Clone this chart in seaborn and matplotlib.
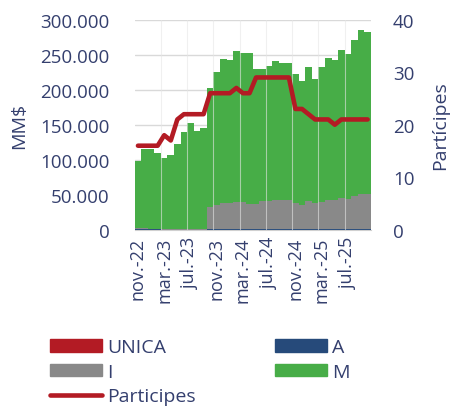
import numpy as np
import pandas as pd
import matplotlib
matplotlib.use('Agg')
import matplotlib.pyplot as plt
import seaborn as sns
from matplotlib.patches import Patch
from matplotlib.lines import Line2D
from matplotlib.ticker import FuncFormatter

# data (MM$)
months = ['nov.-22', 'dic.-22', 'ene.-23', 'feb.-23', 'mar.-23', 'abr.-23', 'may.-23', 'jun.-23',
          'jul.-23', 'ago.-23', 'sept.-23', 'oct.-23', 'nov.-23', 'dic.-23', 'ene.-24', 'feb.-24',
          'mar.-24', 'abr.-24', 'may.-24', 'jun.-24', 'jul.-24', 'ago.-24', 'sept.-24', 'oct.-24',
          'nov.-24', 'dic.-24', 'ene.-25', 'feb.-25', 'mar.-25', 'abr.-25', 'may.-25', 'jun.-25',
          'jul.-25', 'ago.-25', 'sept.-25', 'oct.-25']
unica = [0] * 36
serie_a = [1000, 1000, 300, 300, 200, 200, 200, 200, 200, 200, 200, 300,
           300, 800, 800, 500, 300, 300, 300, 300, 300, 300, 300, 300,
           300, 300, 300, 300, 300, 300, 300, 300, 300, 300, 300, 300]
serie_i = [1500, 1500, 1000, 1000, 500, 500, 500, 500, 500, 500, 500, 32000,
           35000, 38000, 38000, 39000, 39000, 36000, 36000, 40000, 41000, 41500, 41500, 41500,
           38000, 35500, 40000, 37500, 39000, 42000, 41500, 45000, 44000, 47500, 50500, 50500]
total = [98600, 115000, 115000, 110000, 102000, 107000, 122000, 139000, 152000, 140500, 146000, 202000,
         226000, 244000, 242000, 255000, 253000, 252000, 229000, 230000, 234000, 240500, 238000, 238000,
         222000, 212000, 232000, 215000, 233000, 245000, 242000, 257000, 251000, 271000, 285000, 282000]
participes = [16, 16, 16, 16, 18, 17, 21, 22, 22, 22, 22, 26, 26, 26, 26, 27, 26, 26,
              29, 29, 29, 29, 29, 29, 23, 23, 22, 21, 21, 21, 20, 21, 21, 21, 21, 21]

serie_m = [t - i - a for t, i, a in zip(total, serie_i, serie_a)]

df = pd.DataFrame({'mes': months, 'UNICA': unica, 'A': serie_a, 'I': serie_i, 'M': serie_m})
df['top_m'] = df['UNICA'] + df['A'] + df['I'] + df['M']
df['top_i'] = df['UNICA'] + df['A'] + df['I']
df['top_a'] = df['UNICA'] + df['A']

c_green = '#47ad47'
c_gray = '#898989'
c_blue = '#264a7a'
c_red = '#b31b24'
c_text = '#343f6e'

sns.set_style('white')
plt.rcParams['font.family'] = ['Open Sans', 'DejaVu Sans']
plt.rcParams['text.color'] = c_text
plt.rcParams['axes.labelcolor'] = c_text
plt.rcParams['xtick.color'] = c_text
plt.rcParams['ytick.color'] = c_text

fig = plt.figure(figsize=(4.5, 4.1), dpi=100)
ax = fig.add_axes([0.2993, 0.4373, 0.5249, 0.5122])

for col, color in [('top_m', c_green), ('top_i', c_gray), ('top_a', c_blue), ('UNICA', c_red)]:
    sns.barplot(data=df, x='mes', y=col, color=color, width=1.0, saturation=1,
                linewidth=0, ax=ax, zorder=2)

ax.set_ylim(0, 300000)
ax.set_xlim(-0.5, 35.5)
ax.set_yticks(np.arange(0, 300001, 50000))
ax.yaxis.set_major_formatter(FuncFormatter(lambda v, p: f'{int(v):,}'.replace(',', '.')))
ax.grid(axis='y', color='#d9d9d9', lw=1, zorder=0)
ax.set_axisbelow(True)
for b in range(4, 36, 4):
    ax.axvline(b - 0.5, color='#e6e6e6', lw=0.8, alpha=0.6, zorder=3)
ax.set_xticks(range(0, 36, 4))
ax.set_xticklabels(months[::4], rotation=90)
ax.set_xlabel('')
ax.set_ylabel('MM$', fontsize=14)
ax.yaxis.set_label_coords(-0.452, 0.5)
ax.tick_params(axis='y', length=0, labelsize=13.5, pad=18)
ax.tick_params(axis='x', length=0, labelsize=13, pad=5)
for s in ['top', 'right', 'left']:
    ax.spines[s].set_visible(False)
ax.spines['bottom'].set_color('#d0d0d0')

ax2 = ax.twinx()
sns.lineplot(x=np.arange(36), y=participes, color=c_red, lw=3.3, ax=ax2,
             solid_capstyle='round', solid_joinstyle='round', zorder=4)
ax2.set_ylim(0, 40)
ax2.set_yticks(range(0, 41, 10))
ax2.set_ylabel('Partícipes', fontsize=14)
ax2.yaxis.set_label_coords(1.255, 0.5)
ax2.tick_params(axis='y', length=0, labelsize=13.5, pad=16)
for s in ax2.spines.values():
    s.set_visible(False)

handles = [Patch(color=c_red, label='UNICA'),
           Patch(color=c_gray, label='I'),
           Line2D([], [], color=c_red, lw=3.3, solid_capstyle='round', label='Participes'),
           Patch(color=c_blue, label='A'),
           Patch(color=c_green, label='M')]
fig.legend(handles=handles, ncol=2, loc='upper left', bbox_to_anchor=(0.111, 0.172),
           frameon=False, fontsize=14, handlelength=2.68, handleheight=0.62,
           handletextpad=0.26, columnspacing=4.07, labelspacing=0.33, borderpad=0,
           borderaxespad=0)

fig.savefig('out.png', dpi=100)
